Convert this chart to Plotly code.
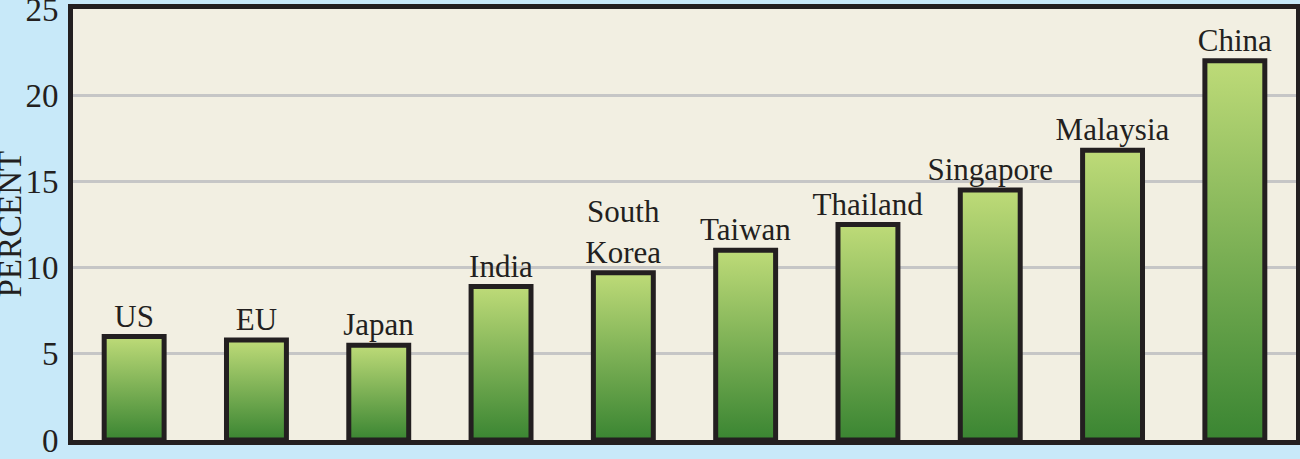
import plotly.graph_objects as go

# data
countries = ["US", "EU", "Japan", "India", "South<br>Korea", "Taiwan",
             "Thailand", "Singapore", "Malaysia", "China"]
percent = [6.0, 5.8, 5.5, 8.9, 9.7, 11.0, 12.5, 14.5, 16.8, 22.0]
y_ticks = [0, 5, 10, 15, 20, 25]

bar_w = 0.49
font = "Liberation Serif"
ink = "#231F20"
sky = "#C8E9F9"

fig = go.Figure()

# gradient fill for each bar (drawn under the outlined bars)
for i, v in enumerate(percent):
    x0, x1 = i - bar_w / 2, i + bar_w / 2
    fig.add_trace(go.Scatter(
        x=[x0, x1, x1, x0, x0], y=[0, 0, v, v, 0],
        mode="lines", fill="toself", line=dict(width=0),
        fillgradient=dict(type="vertical",
                          colorscale=[[0, "#3A8532"], [1, "#BEDB78"]]),
        hoverinfo="skip", showlegend=False))

# bar outlines + labels
fig.add_trace(go.Bar(
    x=list(range(len(countries))), y=percent, width=bar_w,
    yaxis="y2",
    marker=dict(color="rgba(0,0,0,0)", line=dict(color=ink, width=5)),
    text=countries, textposition="outside", constraintext="none",
    textfont=dict(family=font, size=31, color=ink),
    cliponaxis=False, showlegend=False))

fig.update_layout(
    width=1300, height=459,
    margin=dict(l=73, r=4, t=9, b=19),
    paper_bgcolor=sky,
    plot_bgcolor="#F2EFE2",
    font=dict(family=font, color=ink),
    xaxis=dict(range=[-0.5, len(countries) - 0.5], showticklabels=False,
               showgrid=False, zeroline=False, ticks="", automargin=False,
               showline=True, mirror=True, linecolor=ink, linewidth=5),
    yaxis=dict(range=[0, 25], tickvals=y_ticks, ticks="", automargin=False,
               ticklabeloverflow="allow", ticklabelstandoff=3,
               tickfont=dict(size=33), showgrid=True, gridcolor="#C6C6C6",
               gridwidth=3, zeroline=False,
               showline=True, mirror=True, linecolor=ink, linewidth=5),
    yaxis2=dict(range=[0, 25], overlaying="y", visible=False),
    annotations=[dict(text="PERCENT", textangle=-90, showarrow=False,
                      xref="paper", yref="paper", x=0, y=0.5,
                      xanchor="right", yanchor="middle", xshift=-44,
                      font=dict(size=33, color=ink))],
)

fig.write_html("out.html", config={"displayModeBar": False},
               post_script="document.body.style.margin='0';"
                           "document.body.style.background='%s';" % sky)
